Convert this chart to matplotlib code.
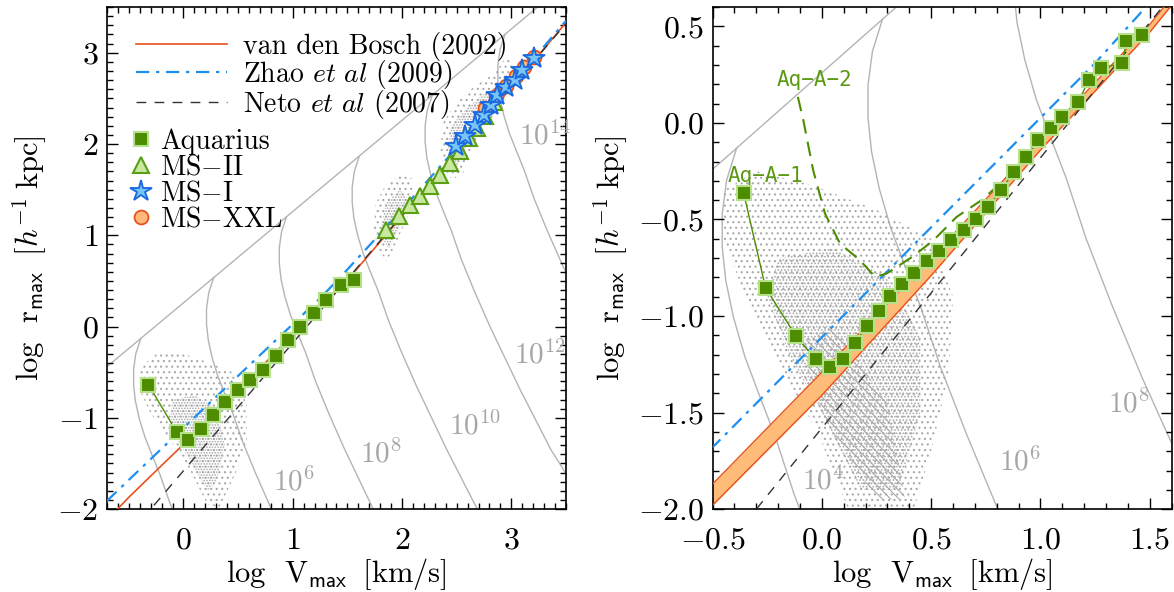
import numpy as np
import matplotlib.pyplot as plt
from matplotlib.ticker import MultipleLocator, FuncFormatter

plt.rcParams['font.family'] = 'serif'
plt.rcParams['font.serif'] = ['cmr10']
plt.rcParams['mathtext.fontset'] = 'cm'
plt.rcParams['axes.formatter.use_mathtext'] = True
plt.rcParams['hatch.linewidth'] = 0.8

# --- relations in (log Vmax, log rmax)
vdb_x = [-0.7, -0.5, 0.0, 0.5, 1.0, 1.5, 2.0, 2.5, 3.0, 3.5]
vdb_y = [-2.12, -1.87, -1.29, -0.70, -0.09, 0.51, 1.21, 1.91, 2.62, 3.33]
vdb_lo_x = [-0.5, 0.0, 0.5, 1.0, 1.5, 1.6]
vdb_lo_y = [-1.98, -1.41, -0.79, -0.14, 0.47, 0.61]
zhao_x = [-0.7, -0.5, 0.0, 0.5, 0.8, 1.25, 1.45, 2.0, 2.5, 3.0, 3.5]
zhao_y = [-1.91, -1.68, -1.11, -0.54, -0.20, 0.31, 0.56, 1.28, 1.96, 2.65, 3.35]
neto_x = [-0.7, 3.5]
neto_y = [-2.56, 3.32]
diag_x = [-0.7, 3.5]
diag_y = [-0.44, 3.76]

# --- constant-mass tracks: shape relative to the point on the diagonal
track_dx = [0.0, -0.046, -0.066, -0.066, -0.05, -0.015, 0.038, 0.107, 0.175,
            0.265, 0.385, 0.525, 0.80, 1.085, 1.25]
track_dy = [0.0, -0.167, -0.34, -0.512, -0.685, -0.875, -1.082, -1.29, -1.49,
            -1.80, -2.15, -2.53, -3.22, -3.885, -4.2]
track_x0 = [-0.39, 0.277, 0.943, 1.61, 2.277, 2.943]
track_y0 = [-0.13, 0.537, 1.203, 1.87, 2.537, 3.203]

mass_left = ['10^{6}', '10^{8}', '10^{10}', '10^{12}', '10^{14}']
mass_left_pos = [(0.823, -1.80), (1.617, -1.49), (2.427, -1.18), (3.02, -0.40), (3.07, 1.99)]
mass_right = ['10^{4}', '10^{6}', '10^{8}']
mass_right_pos = [(-0.093, -1.90), (0.808, -1.80), (1.31, -1.50)]

# --- simulations, left panel
aq_x = [-0.32, -0.062, 0.045, 0.16, 0.272, 0.382, 0.495, 0.61, 0.726, 0.845,
        0.958, 1.07, 1.19, 1.30, 1.443, 1.558]
aq_y = [-0.635, -1.157, -1.242, -1.125, -0.964, -0.822, -0.697, -0.584, -0.471,
        -0.318, -0.15, 0.0, 0.152, 0.292, 0.452, 0.506]
ms2_x = [1.85, 1.97, 2.077, 2.168, 2.26, 2.351, 2.443, 2.528, 2.61, 2.687, 2.763, 2.839]
ms2_y = [1.06, 1.21, 1.33, 1.43, 1.54, 1.665, 1.793, 1.92, 2.066, 2.18, 2.31, 2.46]
ms1_x = [2.495, 2.58, 2.664, 2.748, 2.81, 2.867, 2.95, 3.036, 3.1, 3.204]
ms1_y = [1.975, 2.085, 2.21, 2.32, 2.43, 2.54, 2.625, 2.705, 2.815, 2.943]
msxxl_x = [2.76, 2.86, 2.95, 3.04, 3.12, 3.21]
msxxl_y = [2.40, 2.53, 2.64, 2.74, 2.84, 2.95]

# --- Aquarius resolution levels, right panel
aq1_x = [-0.358, -0.258, -0.119, -0.029, 0.037, 0.098, 0.153, 0.205, 0.259, 0.310,
         0.366, 0.421, 0.479, 0.535, 0.591, 0.648, 0.707, 0.761, 0.821, 0.877,
         0.934, 0.989, 1.046, 1.098, 1.172, 1.222, 1.279, 1.375, 1.393, 1.464]
aq1_y = [-0.363, -0.853, -1.104, -1.225, -1.263, -1.225, -1.138, -1.052, -0.973, -0.898,
         -0.836, -0.775, -0.717, -0.663, -0.608, -0.556, -0.495, -0.435, -0.345, -0.254,
         -0.176, -0.090, -0.024, 0.031, 0.106, 0.225, 0.287, 0.308, 0.425, 0.453]
aq2_x = [-0.11, -0.085, -0.04, 0.014, 0.083, 0.174, 0.243, 0.296, 0.418, 0.51,
         0.616, 0.73, 0.80, 0.877, 0.934, 0.989, 1.046, 1.098, 1.172]
aq2_y = [0.135, 0.014, -0.245, -0.469, -0.625, -0.711, -0.797, -0.78, -0.69, -0.608,
         -0.487, -0.40, -0.33, -0.25, -0.17, -0.085, -0.02, 0.035, 0.11]

# --- outlines of the subhalo point clouds
cloud_lo_x = [-0.40, -0.25, -0.05, 0.2, 0.45, 0.58, 0.58, 0.48, 0.33, 0.22, 0.05, -0.12, -0.3, -0.4]
cloud_lo_y = [-0.45, -0.30, -0.28, -0.38, -0.5, -0.85, -1.25, -1.6, -1.98, -1.95, -1.55, -1.25, -0.95, -0.7]
core_lo_x = [-0.1, 0.1, 0.3, 0.38, 0.3, 0.22, 0.08, -0.05, -0.12]
core_lo_y = [-0.8, -0.75, -0.9, -1.3, -1.7, -1.8, -1.5, -1.25, -1.0]
cloud_ms2_x = [1.74, 1.76, 1.85, 1.98, 2.1, 2.1, 2.02, 1.92, 1.86, 1.78]
cloud_ms2_y = [1.05, 1.35, 1.55, 1.66, 1.62, 1.35, 1.12, 0.85, 0.72, 0.85]
core_ms2_x = [1.80, 1.85, 1.98, 2.05, 1.98, 1.88]
core_ms2_y = [1.0, 1.35, 1.5, 1.4, 1.1, 0.85]
cloud_ms1_x = [2.35, 2.38, 2.5, 2.65, 2.85, 2.95, 3.05, 2.95, 2.8, 2.65, 2.55, 2.45, 2.38]
cloud_ms1_y = [1.95, 2.25, 2.45, 2.62, 2.78, 2.95, 2.85, 2.5, 2.25, 2.0, 1.65, 1.62, 1.75]
core_ms1_x = [2.42, 2.45, 2.6, 2.8, 2.9, 2.75, 2.6, 2.5]
core_ms1_y = [1.95, 2.2, 2.4, 2.6, 2.55, 2.25, 2.0, 1.75]
cloud_r_x = [-0.45, -0.3, -0.05, 0.25, 0.5, 0.6, 0.58, 0.5, 0.42, 0.12, -0.02, -0.2, -0.35, -0.45]
cloud_r_y = [-0.35, -0.25, -0.32, -0.45, -0.6, -0.9, -1.3, -1.7, -2.0, -2.0, -1.6, -1.25, -0.9, -0.6]
core_r_x = [-0.2, 0.05, 0.3, 0.45, 0.45, 0.35, 0.18, 0.02, -0.15, -0.25]
core_r_y = [-0.7, -0.65, -0.8, -1.1, -1.5, -1.9, -1.9, -1.55, -1.2, -0.9]
stripe_r_x = [-0.1, 0.05, 0.3, 0.38, 0.25, 0.02]
stripe_r_y = [-1.15, -1.05, -1.45, -1.95, -1.95, -1.55]

GREY = '#b4b4b4'
ORANGE = '#e8521c'
BLUE = '#1c8ff0'
GREEN = '#4e8c00'
LGREEN = '#b6e08c'


def mass_tracks(ax):
    for x0, y0 in zip(track_x0, track_y0):
        ax.plot(np.add(track_dx, x0), np.add(track_dy, y0), color=GREY, lw=1.0, zorder=1)
    ax.plot(diag_x, diag_y, color=GREY, lw=1.0, zorder=1)


def cloud(ax, xs, ys, dens):
    ax.fill(xs, ys, facecolor='none', edgecolor='#a9a9a9', hatch=dens, lw=0, zorder=1)


def style(ax, major):
    ax.tick_params(which='both', direction='in', top=True, right=True, width=1.0, labelsize=23)
    ax.tick_params(which='major', length=8)
    ax.tick_params(axis='x', which='major', pad=13)
    ax.tick_params(axis='y', which='major', pad=6)
    ax.tick_params(which='minor', length=4)
    ax.xaxis.set_major_locator(MultipleLocator(major))
    ax.yaxis.set_major_locator(MultipleLocator(major))
    ax.xaxis.set_minor_locator(MultipleLocator(0.1))
    ax.yaxis.set_minor_locator(MultipleLocator(0.1))
    fmt = '%d' if major >= 1 else '%.1f'
    f = FuncFormatter(lambda v, p: '$%s$' % (fmt % v))
    ax.xaxis.set_major_formatter(f)
    ax.yaxis.set_major_formatter(f)
    for s in ax.spines.values():
        s.set_linewidth(1.2)
    ax.set_xlabel(r'$\log\;\;\mathrm{V}_{\mathsf{max}}\;\;[\mathrm{km/s}]$', fontsize=22, labelpad=1)
    ax.set_ylabel(r'$\log\;\;\mathrm{r}_{\mathsf{max}}\;\;[h^{-1}\;\mathrm{kpc}]$', fontsize=22, labelpad=6)


fig = plt.figure(figsize=(11.74, 5.92), dpi=100)
axL = fig.add_axes([0.0911, 0.140, 0.391, 0.848])
axR = fig.add_axes([0.607, 0.140, 0.391, 0.848])

# ---------------- left panel
mass_tracks(axL)
cloud(axL, cloud_lo_x, cloud_lo_y, '...')
cloud(axL, core_lo_x, core_lo_y, '......')
cloud(axL, cloud_ms2_x, cloud_ms2_y, '...')
cloud(axL, core_ms2_x, core_ms2_y, '......')
cloud(axL, cloud_ms1_x, cloud_ms1_y, '...')
cloud(axL, core_ms1_x, core_ms1_y, '......')
for lab, (tx, ty) in zip(mass_left, mass_left_pos):
    axL.text(tx, ty, '$%s$' % lab, color='#a6a6a6', fontsize=21, ha='left', va='baseline')

l1, = axL.plot(vdb_x, vdb_y, color=ORANGE, lw=1.2, zorder=3)
l2, = axL.plot(zhao_x, zhao_y, color=BLUE, lw=1.6, dashes=(6, 3, 1.5, 3), zorder=3)
l3, = axL.plot(neto_x, neto_y, color='#333333', lw=1.0, dashes=(7, 6), zorder=3)

axL.plot(aq_x, aq_y, color=GREEN, lw=1.0, zorder=4)
m1, = axL.plot(aq_x, aq_y, 's', ms=10, mfc=GREEN, mec=LGREEN, mew=1.5, zorder=5)
m2, = axL.plot(ms2_x, ms2_y, '^', ms=11, mfc='#c8e8a0', mec='#5a9e14', mew=1.5, zorder=5)
m4, = axL.plot(msxxl_x, msxxl_y, 'o', ms=10, mfc='#ffb77a', mec=ORANGE, mew=1.3, zorder=5)
m3, = axL.plot(ms1_x, ms1_y, '*', ms=16, mfc='#76c4f8', mec='#1868e0', mew=1.3, zorder=6)

axL.set_xlim(-0.7, 3.5)
axL.set_ylim(-2.0, 3.5)
style(axL, 1)

leg1 = axL.legend([l1, l2, l3],
                  ['van den Bosch (2002)', r'Zhao $\mathit{et\ al}$ (2009)', r'Neto $\mathit{et\ al}$ (2007)'],
                  loc='upper left', bbox_to_anchor=(0.02, 0.99), frameon=False, fontsize=20,
                  handlelength=3.3, handletextpad=0.55, labelspacing=-0.1, borderpad=0.2)
axL.add_artist(leg1)
axL.legend([m1, m2, m3, m4], ['Aquarius', r'MS$-$II', r'MS$-$I', r'MS$-$XXL'],
           loc='upper left', bbox_to_anchor=(0.01, 0.797), frameon=False, fontsize=20,
           handlelength=0.7, handletextpad=0.35, labelspacing=-0.02, borderpad=0.2)

# ---------------- right panel
mass_tracks(axR)
cloud(axR, cloud_r_x, cloud_r_y, '...')
cloud(axR, core_r_x, core_r_y, '.....')
cloud(axR, stripe_r_x, stripe_r_y, '\\\\\\\\')
for lab, (tx, ty) in zip(mass_right, mass_right_pos):
    axR.text(tx, ty, '$%s$' % lab, color='#a6a6a6', fontsize=21, ha='left', va='baseline')

axR.fill_between(vdb_lo_x, vdb_lo_y, np.interp(vdb_lo_x, vdb_x, vdb_y),
                 color='#ffbb78', lw=0, zorder=2)
axR.plot(vdb_x, vdb_y, color=ORANGE, lw=1.0, zorder=3)
axR.plot(vdb_lo_x, vdb_lo_y, color=ORANGE, lw=1.0, zorder=3)
axR.plot(zhao_x, zhao_y, color=BLUE, lw=1.6, dashes=(6, 3, 1.5, 3), zorder=3)
axR.plot(neto_x, neto_y, color='#333333', lw=1.0, dashes=(7, 6), zorder=3)

axR.plot(aq2_x, aq2_y, color=GREEN, lw=1.5, dashes=(7, 4), zorder=4)
axR.plot(aq1_x, aq1_y, color=GREEN, lw=1.0, zorder=4)
axR.plot(aq1_x, aq1_y, 's', ms=10, mfc=GREEN, mec=LGREEN, mew=1.5, zorder=5)
axR.text(-0.033, 0.225, 'Aq\u2212A\u22122', family='DejaVu Sans Mono', color='#5a9a10',
         fontsize=15, ha='center', va='center')
axR.text(-0.258, -0.275, 'Aq\u2212A\u22121', family='DejaVu Sans Mono', color='#5a9a10',
         fontsize=15, ha='center', va='center')

axR.set_xlim(-0.5, 1.6)
axR.set_ylim(-2.0, 0.6)
style(axR, 0.5)

fig.savefig('out.png', dpi=100)
